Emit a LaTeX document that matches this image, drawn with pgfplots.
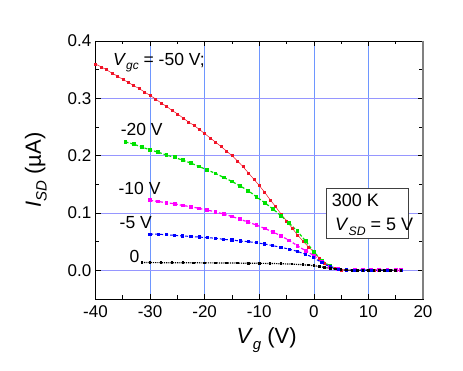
\documentclass[border=0pt]{standalone}
\usepackage{fontspec}
\setmainfont{Liberation Sans}
\usepackage{pgfplots}
\pgfplotsset{compat=1.18}
\definecolor{gridA}{RGB}{110,150,255}
\definecolor{gridB}{RGB}{20,20,220}
\definecolor{gridC}{RGB}{150,150,255}
\definecolor{cgreen}{RGB}{0,225,0}
\definecolor{cmag}{RGB}{255,0,255}
\definecolor{cred}{RGB}{240,20,40}
\newcommand\sub[1]{\raisebox{-0.5ex}{\fontsize{0.68em}{1em}\selectfont\itshape #1}}
\begin{document}
\begin{tikzpicture}[x=1pt,y=1pt]
\useasboundingbox (0,0) rectangle (463,371);
\begin{axis}[
  at={(95.5pt,72pt)}, anchor=south west,
  scale only axis, width=327.5pt, height=258pt,
  xmin=-40, xmax=20, ymin=-0.05, ymax=0.4,
  xtick={-40,-30,-20,-10,0,10,20},
  xticklabels={-40,-30,-20,-10,0,10,20},
  ytick={0,0.1,0.2,0.3,0.4},
  yticklabels={0.0,0.1,0.2,0.3,0.4},
  extra x ticks={-20}, extra x tick labels={},
  extra x tick style={grid style={gridB, line width=0.6pt}},
  extra y ticks={0.1,0.3}, extra y tick labels={},
  extra y tick style={grid style={gridB, line width=0.6pt}},
  minor x tick num=1, minor y tick num=1,
  tick align=inside, major tick length=5pt, minor tick length=3.5pt,
  tick style={black, line width=0.6pt},
  xmajorgrids, ymajorgrids,
  x grid style={gridA, line width=0.6pt},
  y grid style={gridC, line width=0.9pt},
  axis line style={black, line width=0.8pt},
  tick label style={font=\fontsize{17}{20}\selectfont},
  xticklabel style={anchor=north, inner sep=0pt, yshift=-6pt},
  yticklabel style={anchor=east, inner sep=0pt, xshift=-4pt},
  clip=false,
]
% red: Vgc = -50 V
\addplot[cred, line width=0.5pt, mark=square*, mark size=1pt, mark options={solid, fill=cred}] coordinates {
(-40,0.360)(-39,0.355)(-38,0.350)(-37,0.344)(-36,0.339)(-35,0.333)(-34,0.328)(-33,0.322)(-32,0.317)(-31,0.311)
(-30,0.305)(-29,0.299)(-28,0.292)(-27,0.286)(-26,0.279)(-25,0.273)(-24,0.266)(-23,0.259)(-22,0.253)(-21,0.246)
(-20,0.2385)(-19,0.231)(-18,0.2235)(-17,0.216)(-16,0.208)(-15,0.200)(-14,0.191)(-13,0.181)(-12,0.170)(-11,0.159)
(-10,0.148)(-9,0.136)(-8,0.123)(-7,0.111)(-6,0.098)(-5,0.086)(-4,0.074)(-3,0.062)(-2,0.051)(-1,0.041)
(0,0.032)(1,0.021)(2,0.012)(3,0.006)(4,0.003)(5,0.001)(6,0.0003)(7,0)(8,0)(9,0)(10,0)(11,0)(12,0)(13,0)(14,0)(15,0)(16,0)
};
% green: -20 V
\addplot[cgreen, line width=1.2pt, densely dashed, mark=square*, mark size=1.3pt, mark options={solid, fill=cgreen}] coordinates {
(-34.5,0.224)(-33,0.220)(-31.5,0.215)(-30,0.210)(-28.5,0.206)(-27,0.201)(-25.5,0.197)(-24,0.192)(-22.5,0.187)(-21,0.181)
(-19.5,0.175)(-18,0.169)(-16.5,0.162)(-15,0.155)(-13.5,0.147)(-12,0.139)(-10.5,0.128)(-9,0.118)(-7.5,0.107)(-6,0.095)
(-4.5,0.082)(-3,0.068)(-1.5,0.051)(0,0.032)(1.5,0.017)(3,0.007)(4.5,0.002)(6,0.0005)(7.5,0)(9,0)(10.5,0)(12,0)(13.5,0)(15,0)(16,0)
};
% magenta: -10 V
\addplot[cmag, line width=1.2pt, densely dashed, mark=square*, mark size=1.3pt, mark options={solid, fill=cmag}] coordinates {
(-30,0.122)(-28.5,0.120)(-27,0.118)(-25.5,0.116)(-24,0.113)(-22.5,0.111)(-21,0.108)(-19.5,0.105)(-18,0.102)(-16.5,0.098)
(-15,0.094)(-13.5,0.089)(-12,0.084)(-10.5,0.079)(-9,0.073)(-7.5,0.067)(-6,0.060)(-4.5,0.052)(-3,0.043)(-1.5,0.034)
(0,0.026)(1.5,0.014)(3,0.006)(4.5,0.002)(6,0.0005)(7.5,0)(9,0)(10.5,0)(12,0)(13.5,0)(15,0)(16,0)
};
% blue: -5 V
\addplot[blue, line width=1pt, densely dashed, mark=square*, mark size=1.1pt, mark options={solid, fill=blue}] coordinates {
(-30,0.063)(-28.5,0.063)(-27,0.062)(-25.5,0.061)(-24,0.060)(-22.5,0.059)(-21,0.058)(-19.5,0.057)(-18,0.056)(-16.5,0.054)
(-15,0.053)(-13.5,0.051)(-12,0.050)(-10.5,0.048)(-9,0.046)(-7.5,0.043)(-6,0.040)(-4.5,0.037)(-3,0.033)(-1.5,0.028)
(0,0.022)(1.5,0.013)(3,0.006)(4.5,0.002)(6,0.0005)(7.5,0)(9,0)(10.5,0)(12,0)(13.5,0)(15,0)(16,0)
};
% black: 0 V
\addplot[black, line width=1.2pt, densely dotted, mark=square*, mark size=0.7pt, mark options={solid, fill=black}] coordinates {
(-31.5,0.0135)(-30,0.0135)(-28,0.0134)(-26,0.0133)(-24,0.0132)(-22,0.0131)(-20,0.0130)(-18,0.0130)(-16,0.0128)(-14,0.0126)
(-12,0.0124)(-10,0.0122)(-8,0.0120)(-6,0.0115)(-4,0.0108)(-2,0.0098)(-1,0.0090)(0,0.0082)(1,0.0065)(2,0.0050)
(3,0.0035)(4,0.0020)(5,0.0010)(6,0.0004)(7,0)(8,0)(9,0)(10,0)(11,0)(12,0)(13,0)(14,0)(15,0)(16,0)
};
% right border
\draw[gray, line width=1.6pt] (rel axis cs:1,0) -- (rel axis cs:1,1);
% annotations
\begin{scope}[every node/.style={font=\fontsize{17.5}{20}\selectfont, inner sep=0pt}]
\node[anchor=base west] at (axis cs:-36.8,0.358) {\textit{V}\sub{gc} = -50 V;};
\node[anchor=base west] at (axis cs:-35.4,0.2356) {-20 V};
\node[anchor=base west] at (axis cs:-35.8,0.132) {-10 V};
\node[anchor=base west] at (axis cs:-35.6,0.0727) {-5 V};
\node[anchor=base west] at (axis cs:-33.8,0.0128) {0};
\end{scope}
\draw[black!75, line width=0.8pt, fill=white] (axis cs:2.23,0.0565) rectangle (axis cs:17.3,0.1426);
\begin{scope}[every node/.style={font=\fontsize{18}{20}\selectfont, inner sep=0pt}]
\node[anchor=base west] at (axis cs:3.27,0.1105) {300 K};
\node[anchor=base west] at (axis cs:3.88,0.0698) {\textit{V}\sub{SD} = 5 V};
\end{scope}
% axis labels
\node[rotate=90, font=\fontsize{22}{26}\selectfont, inner sep=0pt] at ([xshift=-59.7pt]rel axis cs:0,0.5) {\textit{I}\sub{SD} (µA)};
\node[anchor=base, font=\fontsize{22}{26}\selectfont, inner sep=0pt] at ([xshift=7.4pt, yshift=-44.3pt]rel axis cs:0.5,0) {\textit{V}\sub{g} (V)};
\end{axis}
\end{tikzpicture}
\end{document}
